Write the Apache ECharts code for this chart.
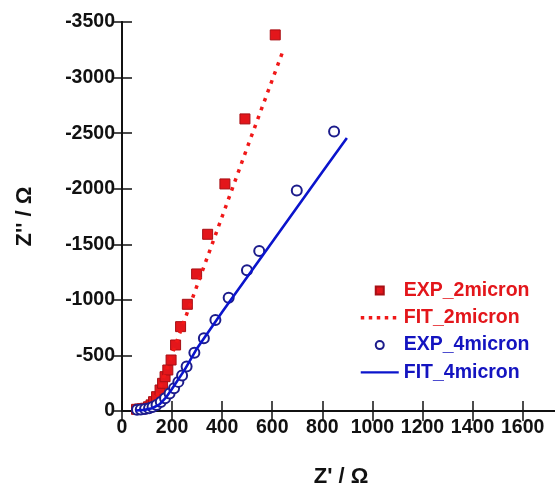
<!DOCTYPE html>
<html>
<head>
<meta charset="utf-8">
<script src="https://cdn.jsdelivr.net/npm/echarts@6/dist/echarts.min.js"></script>
<style>
  html, body { margin: 0; padding: 0; background: #fff; }
  #chart { width: 555px; height: 487px; }
</style>
</head>
<body>
<div id="chart"></div>
<script>
// ---- data ----
var exp2X = [58, 70, 82, 94, 106, 116, 126, 138, 152, 162, 172, 183, 196, 214, 234, 261, 298, 342, 411, 491, 612];
var exp2Y = [-15, -18, -20, -25, -38, -55, -84, -129, -189, -249, -309, -369, -459, -594, -759, -960, -1233, -1590, -2043, -2628, -3384];

var fit2X = [55, 80, 100, 115, 130, 150, 200, 300, 400, 500, 647];
var fit2Y = [-5, -10, -18, -35, -80, -200, -510, -1130, -1750, -2370, -3265];

var exp4X = [60, 75, 92, 108, 122, 138, 155, 172, 190, 208, 225, 240, 258, 289, 327, 373, 426, 499, 548, 698, 847];
var exp4Y = [-12, -14, -17, -24, -35, -54, -80, -115, -158, -205, -262, -320, -400, -525, -655, -819, -1018, -1266, -1440, -1983, -2514];

var fit4X = [55, 90, 120, 150, 175, 200, 250, 300, 400, 500, 600, 700, 800, 898];
var fit4Y = [-5, -10, -25, -60, -120, -200, -370, -565, -890, -1205, -1520, -1835, -2150, -2456];

var seriesNames = ['EXP_2micron', 'FIT_2micron', 'EXP_4micron', 'FIT_4micron'];
var xTitle = "Z' / \u03A9";
var yTitle = "Z'' / \u03A9";

function pairs(xs, ys) { return xs.map(function (x, i) { return [x, ys[i]]; }); }
function plain(v) { return String(v); }

var FONT = "'Liberation Sans', Arial, sans-serif";
var RED = '#e3161b';
var REDLINE = '#f01818';
var NAVY = '#1c1c8c';
var BLUE = '#0b14cc';
var LBLUE = '#1414c0';

var chart = echarts.init(document.getElementById('chart'));

var axisLabelStyle = { color: '#111', fontWeight: 'bold', fontSize: 19.5, fontFamily: FONT, formatter: plain };
var axisLineStyle = { show: true, lineStyle: { color: '#111', width: 1.8 } };
var tickStyle = { show: true, inside: true, length: 10, lineStyle: { color: '#111', width: 1.5 } };

chart.setOption({
  animation: false,
  backgroundColor: '#fff',
  grid: { left: 122, top: 22, width: 438.2, height: 389, containLabel: false, outerBoundsMode: 'none' },
  xAxis: [{
    type: 'value', min: 0, max: 1750, interval: 200, position: 'bottom',
    axisLine: axisLineStyle, axisTick: tickStyle, splitLine: { show: false },
    axisLabel: Object.assign({ margin: 7, showMaxLabel: false }, axisLabelStyle),
    name: xTitle, nameLocation: 'middle', nameGap: 55,
    nameTextStyle: { color: '#111', fontWeight: 'bold', fontSize: 22, fontFamily: FONT }
  }, {
    type: 'value', min: 0, max: 1750, interval: 200, position: 'top',
    axisLine: axisLineStyle, axisTick: tickStyle, splitLine: { show: false },
    axisLabel: { show: false }
  }],
  yAxis: [{
    type: 'value', min: -3500, max: 0, interval: 500, inverse: true, position: 'left',
    axisLine: axisLineStyle, axisTick: tickStyle, splitLine: { show: false },
    axisLabel: Object.assign({ margin: 7 }, axisLabelStyle),
    name: yTitle, nameLocation: 'middle', nameGap: 86, nameRotate: 90,
    nameTextStyle: { color: '#111', fontWeight: 'bold', fontSize: 22, fontFamily: FONT }
  }, {
    type: 'value', min: -3500, max: 0, interval: 500, inverse: true, position: 'right',
    axisLine: axisLineStyle, axisTick: tickStyle, splitLine: { show: false },
    axisLabel: { show: false }
  }],
  legend: {
    orient: 'vertical', left: 359, top: 280.5, padding: 0,
    itemWidth: 38, itemHeight: 10, itemGap: 7.3,
    textStyle: { fontWeight: 'bold', fontSize: 19.5, fontFamily: FONT },
    data: [
      { name: seriesNames[0], textStyle: { color: RED }, lineStyle: { width: 0, opacity: 0 } },
      { name: seriesNames[1], textStyle: { color: RED }, itemStyle: { opacity: 0 }, lineStyle: { width: 3.5, type: [3.5, 4.5] } },
      { name: seriesNames[2], textStyle: { color: LBLUE }, lineStyle: { width: 0, opacity: 0 } },
      { name: seriesNames[3], textStyle: { color: LBLUE }, itemStyle: { opacity: 0 }, lineStyle: { width: 2.2 } }
    ]
  },
  series: [
    {
      name: seriesNames[0], type: 'line', data: pairs(exp2X, exp2Y),
      symbol: 'rect', symbolSize: 10, showSymbol: true,
      lineStyle: { width: 0, opacity: 0 },
      itemStyle: { color: RED, borderColor: '#a80f14', borderWidth: 1 },
      z: 2
    },
    {
      name: seriesNames[1], type: 'line', data: pairs(fit2X, fit2Y),
      symbol: 'none', smooth: false,
      lineStyle: { color: REDLINE, width: 3.5, type: [3.5, 6] },
      itemStyle: { color: REDLINE },
      z: 3
    },
    {
      name: seriesNames[2], type: 'line', data: pairs(exp4X, exp4Y),
      symbol: 'emptyCircle', symbolSize: 10, showSymbol: true,
      lineStyle: { width: 0, opacity: 0 },
      itemStyle: { color: NAVY, borderColor: NAVY, borderWidth: 1.3 },
      z: 4
    },
    {
      name: seriesNames[3], type: 'line', data: pairs(fit4X, fit4Y),
      symbol: 'none', smooth: false,
      lineStyle: { color: BLUE, width: 2.6 },
      itemStyle: { color: BLUE },
      z: 5
    }
  ]
});
</script>
</body>
</html>
